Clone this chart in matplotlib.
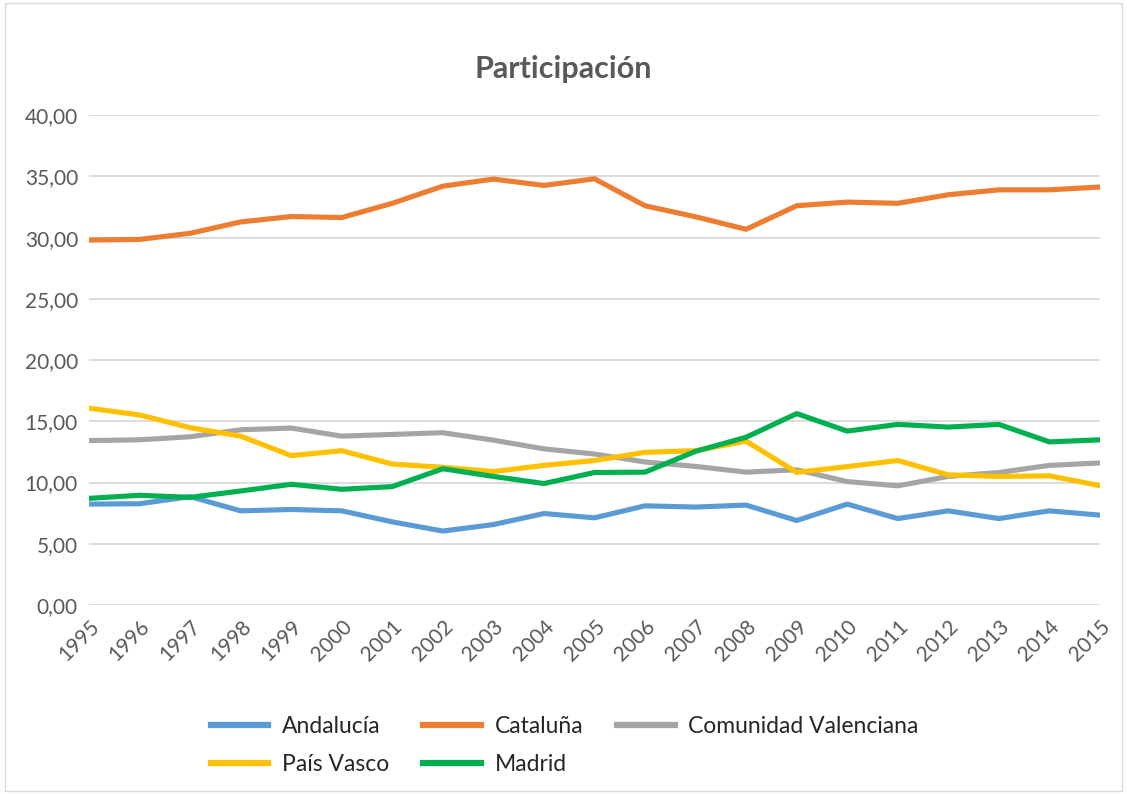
import matplotlib
matplotlib.use("Agg")
import matplotlib.pyplot as plt
from matplotlib.patches import Rectangle

years = [str(y) for y in range(1995, 2016)]
andalucia = [8.24, 8.27, 8.85, 7.69, 7.80, 7.69, 6.79, 6.04, 6.57, 7.47, 7.12,
             8.10, 8.00, 8.16, 6.90, 8.24, 7.06, 7.69, 7.06, 7.69, 7.34]
cataluna = [29.80, 29.85, 30.35, 31.28, 31.72, 31.64, 32.80, 34.20, 34.78, 34.26, 34.80,
            32.60, 31.70, 30.68, 32.60, 32.90, 32.80, 33.50, 33.90, 33.90, 34.13]
valenciana = [13.43, 13.49, 13.74, 14.31, 14.45, 13.79, 13.93, 14.07, 13.46, 12.75, 12.33,
              11.68, 11.32, 10.85, 11.04, 10.08, 9.73, 10.50, 10.82, 11.40, 11.60]
pais_vasco = [16.07, 15.52, 14.48, 13.79, 12.20, 12.60, 11.51, 11.24, 10.90, 11.40, 11.80,
              12.47, 12.60, 13.38, 10.83, 11.30, 11.80, 10.63, 10.50, 10.55, 9.75]
madrid = [8.71, 8.96, 8.79, 9.31, 9.86, 9.45, 9.67, 11.13, 10.50, 9.92, 10.82,
          10.85, 12.55, 13.70, 15.63, 14.20, 14.75, 14.53, 14.75, 13.32, 13.49]
yticks = [0, 5, 10, 15, 20, 25, 30, 35, 40]
ytick_labels = ["0,00", "5,00", "10,00", "15,00", "20,00", "25,00", "30,00", "35,00", "40,00"]

series = [
    ("Andalucía", andalucia, "#5B9BD5"),
    ("Cataluña", cataluna, "#ED7D31"),
    ("Comunidad Valenciana", valenciana, "#A5A5A5"),
    ("País Vasco", pais_vasco, "#FFC000"),
    ("Madrid", madrid, "#00B050"),
]

plt.rcParams['font.family'] = ['Lato', 'DejaVu Sans']

fig = plt.figure(figsize=(11.27, 7.94), dpi=100)
fig.patches.append(Rectangle((0.004, 0.004), 0.992, 0.992, transform=fig.transFigure,
                             fill=False, edgecolor="#D9D9D9", linewidth=1.0))
ax = fig.add_axes([0.079, 0.238, 0.897, 0.617])

x = list(range(len(years)))
lines = {}
for name, vals, col in series:
    ln, = ax.plot(x, vals, color=col, linewidth=3.7, label=name)
    lines[name] = ln

ax.set_xlim(0, len(years) - 1)
ax.set_ylim(0, 40)
ax.set_yticks(yticks)
ax.set_yticklabels(ytick_labels)
ax.set_xticks(x)
ax.set_xticklabels(years, rotation=45, ha="right", va="top", rotation_mode="anchor")
ax.tick_params(axis="both", length=0, labelsize=15, labelcolor="#595959")
ax.tick_params(axis="x", pad=8)
ax.tick_params(axis="y", pad=8)
ax.grid(axis="y", color="#D9D9D9", linewidth=1.3)
ax.set_axisbelow(True)
for s in ax.spines.values():
    s.set_visible(False)

fig.text(0.5, 0.913, "Participación", ha="center", va="center", fontsize=22,
         fontweight="bold", color="#595959")

order = ["Andalucía", "País Vasco", "Cataluña", "Madrid", "Comunidad Valenciana"]
leg = fig.legend([lines[n] for n in order], order, loc="upper left",
                 bbox_to_anchor=(0.187, 0.098), ncol=3, frameon=False,
                 fontsize=16.5, handlelength=2.5, columnspacing=1.5, handletextpad=0.6,
                 labelspacing=0.75, borderaxespad=0, borderpad=0)
for t in leg.get_texts():
    t.set_color("#262626")
for l in leg.get_lines():
    l.set_linewidth(4.5)

fig.savefig("out.png", dpi=100)
